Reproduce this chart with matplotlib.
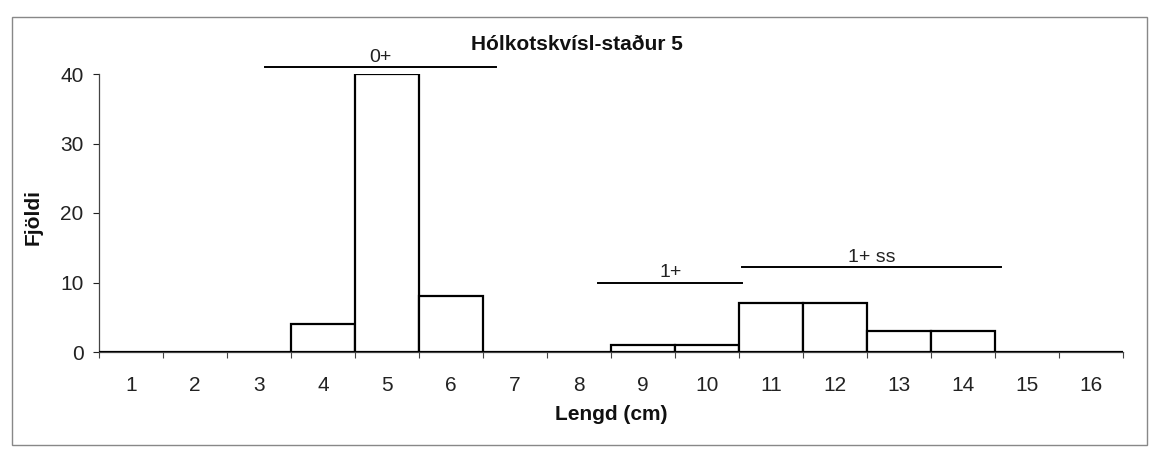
import numpy as np
import matplotlib
matplotlib.use("Agg")
import matplotlib.pyplot as plt
from matplotlib.patches import Rectangle

# length classes (cm) and number of fish in each
lengths = [1, 2, 3, 4, 5, 6, 7, 8, 9, 10, 11, 12, 13, 14, 15, 16]
counts = [0, 0, 0, 4, 40, 8, 0, 0, 1, 1, 7, 7, 3, 3, 0, 0]
y_ticks = [0, 10, 20, 30, 40]

# age groups: label, start, end, height of line
group_labels = ["0+", "1+", "1+ ss"]
group_start = [3.1, 8.3, 10.55]
group_end = [6.7, 10.55, 14.6]
group_level = [41.0, 10.0, 12.2]

title = "Hólkotskvísl-staður 5"
xlabel = "Lengd (cm)"
ylabel = "Fjöldi"

def main():
    plt.rcParams['font.family'] = ['Liberation Sans', 'DejaVu Sans']
    fig = plt.figure(figsize=(11.54, 4.57), dpi=100)
    W, H = 1154, 457

    # thin frame around the whole chart
    fig.patches.append(Rectangle((12 / W, 1 - 445 / H), (1147 - 12) / W, (445 - 17) / H,
                                 transform=fig.transFigure, fill=False,
                                 edgecolor="#888888", linewidth=1.0))

    ax = fig.add_axes([99 / W, 1 - 352 / H, (1123 - 99) / W, (352 - 74) / H])
    ax.bar(lengths, counts, width=1.0, color="white", edgecolor="black", linewidth=1.6, zorder=3)

    ax.set_xlim(0.5, 16.5)
    ax.set_ylim(0, 40)
    ax.set_xticks(lengths)
    ax.set_xticklabels([str(v) for v in lengths])
    ax.set_xticks(np.arange(0.5, 17, 1.0), minor=True)
    ax.set_yticks(y_ticks)
    ax.tick_params(axis="x", which="major", length=0, pad=17, labelsize=15, colors="#222222")
    ax.tick_params(axis="x", which="minor", length=4, width=0.8, color="#444444")
    ax.tick_params(axis="y", length=4, width=0.8, pad=7, labelsize=15, colors="#222222")
    for s in ["top", "right"]:
        ax.spines[s].set_visible(False)
    for s in ["left", "bottom"]:
        ax.spines[s].set_color("#444444")
        ax.spines[s].set_linewidth(0.9)

    for i in range(len(group_labels)):
        ax.plot([group_start[i], group_end[i]], [group_level[i], group_level[i]],
                color="black", linewidth=1.4, clip_on=False, zorder=4)
        ax.text((group_start[i] + group_end[i]) / 2, group_level[i] + 1.4,
                group_labels[i], ha="center", va="center",
                fontsize=14, color="#222222", clip_on=False)

    fig.text(577 / W, 1 - 45 / H, title, ha="center", va="center",
             fontsize=15, fontweight="bold", color="#111111")
    fig.text(611 / W, 1 - 415 / H, xlabel, ha="center", va="center",
             fontsize=15, fontweight="bold", color="#111111")
    fig.text(33 / W, 1 - 217 / H, ylabel, ha="center", va="center", rotation=90,
             fontsize=15, fontweight="bold", color="#111111")

    fig.savefig("out.png", dpi=100)

if __name__ == "__main__":
    main()
